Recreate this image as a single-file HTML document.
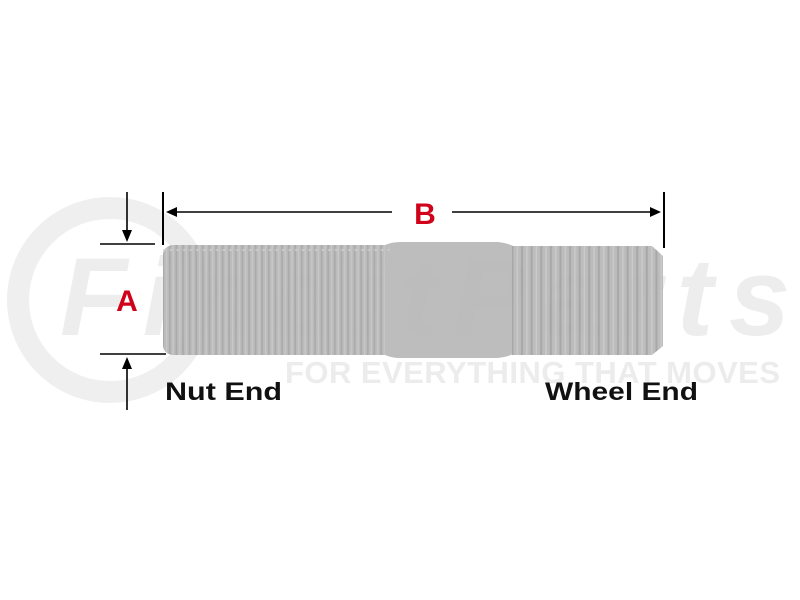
<!DOCTYPE html>
<html><head><style>html,body{margin:0;padding:0;background:#fff;}svg{display:block}</style></head>
<body>
<svg width="800" height="600" viewBox="0 0 800 600" xmlns="http://www.w3.org/2000/svg">
<defs>
<pattern id="tl" width="6.6" height="120" patternUnits="userSpaceOnUse" x="165">
<rect width="6.6" height="120" fill="#b9b9b9"/>
<rect x="4" width="1.6" height="120" fill="#a6a6a6"/>
<rect x="1" width="1.2" height="120" fill="#c6c6c6"/>
</pattern>
<pattern id="tr" width="9.6" height="120" patternUnits="userSpaceOnUse" x="515">
<rect width="9.6" height="120" fill="#bababa"/>
<rect x="6" width="2" height="120" fill="#a4a4a4"/>
<rect x="1.5" width="1.5" height="120" fill="#c8c8c8"/>
</pattern>
</defs>
<!-- watermark -->
<circle cx="110" cy="300" r="92" fill="none" stroke="#efefef" stroke-width="22"/>
<text x="60" y="335" font-family="Liberation Sans, sans-serif" font-weight="bold" font-style="italic" font-size="110" fill="#ededed" textLength="730">FinditParts</text>
<text x="285" y="383" font-family="Liberation Sans, sans-serif" font-weight="bold" font-size="31" fill="#ececec" textLength="495">FOR EVERYTHING THAT MOVES</text>
<!-- stud -->
<g opacity="0.96">
<path d="M172,245 L390,245 L390,355 L172,355 Q163,353 163,345 L163,255 Q163,247 172,245Z" fill="url(#tl)"/>
<path d="M385,245 Q392,242 400,242 L498,242 Q508,243 515,247 L515,353 Q508,357 498,358 L400,358 Q392,358 385,355Z" fill="#bbbbbb"/>
<path d="M512,246 L652,246 L663,256 L663,346 L652,355 L512,355Z" fill="url(#tr)"/>
</g>
<path d="M163,250 L390,250" stroke="#d0d0d0" stroke-width="2" stroke-dasharray="3,3.6" opacity="0.7"/>
<!-- B dimension -->
<line x1="163" y1="192" x2="163" y2="245" stroke="#000" stroke-width="2"/>
<line x1="664" y1="192" x2="664" y2="248" stroke="#000" stroke-width="2"/>
<line x1="176" y1="212" x2="392" y2="212" stroke="#000" stroke-width="1.6"/>
<line x1="452" y1="212" x2="652" y2="212" stroke="#000" stroke-width="1.6"/>
<polygon points="166,212 177,207 177,217" fill="#000"/>
<polygon points="661,212 650,207 650,217" fill="#000"/>
<text x="425" y="224" text-anchor="middle" font-family="Liberation Sans, sans-serif" font-weight="bold" font-size="30" fill="#d0021b">B</text>
<!-- A dimension -->
<line x1="100" y1="244" x2="155" y2="244" stroke="#000" stroke-width="1.6"/>
<line x1="100" y1="354" x2="166" y2="354" stroke="#000" stroke-width="1.6"/>
<line x1="127" y1="192" x2="127" y2="232" stroke="#000" stroke-width="1.6"/>
<polygon points="127,242 122,230 132,230" fill="#000"/>
<line x1="127" y1="368" x2="127" y2="410" stroke="#000" stroke-width="1.6"/>
<polygon points="127,357 122,369 132,369" fill="#000"/>
<text x="127" y="311" text-anchor="middle" font-family="Liberation Sans, sans-serif" font-weight="bold" font-size="30" fill="#d0021b">A</text>
<!-- labels -->
<text x="165" y="400" font-family="Liberation Sans, sans-serif" font-weight="bold" font-size="25" fill="#111" textLength="117" lengthAdjust="spacingAndGlyphs">Nut End</text>
<text x="545" y="400" font-family="Liberation Sans, sans-serif" font-weight="bold" font-size="25" fill="#111" textLength="153" lengthAdjust="spacingAndGlyphs">Wheel End</text>
</svg>
</body></html>
